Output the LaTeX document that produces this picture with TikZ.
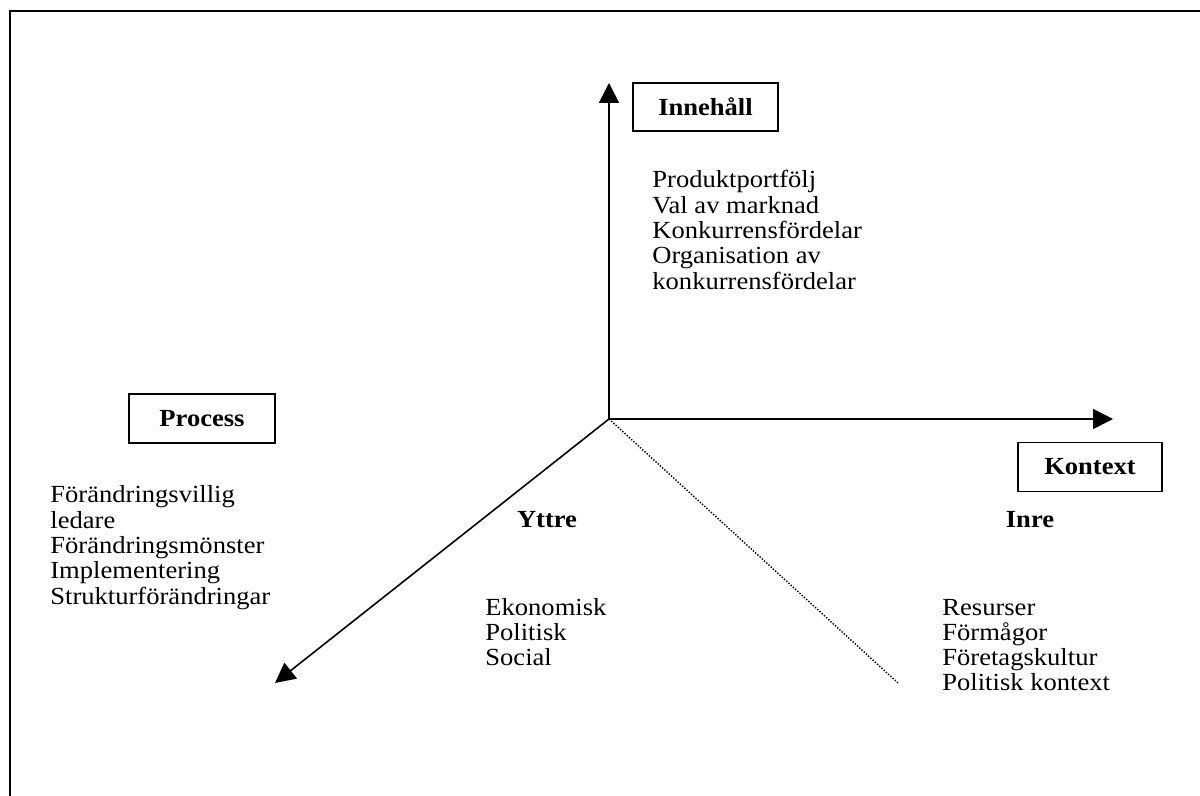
\documentclass[tikz,border=0pt]{standalone}
\usepackage{fontspec}
\setmainfont{Liberation Serif}[FakeStretch=1.08]
\usetikzlibrary{arrows.meta}
\begin{document}
\begin{tikzpicture}[x=0.5pt,y=-0.5pt,
  frame/.style={line width=0.9pt},
  axis/.style={line width=0.8pt,-{Triangle[length=10pt,width=10pt]}},
  dotline/.style={line width=0.7pt,dash pattern=on 0.7pt off 0.8pt},
  label/.style={draw,line width=0.7pt,inner sep=0pt,font=\fontsize{12.3}{14}\selectfont\bfseries},
  heading/.style={inner sep=0pt,anchor=base,font=\fontsize{12.3}{14}\selectfont\bfseries},
  item/.style={inner sep=0pt,anchor=base west,font=\fontsize{12.3}{14}\selectfont}]
\useasboundingbox (0,0) rectangle (1200,796);

% open frame along the top and left
\draw[frame] (10,796) -- (10,11) -- (1200,11);

% axes from a common origin
\coordinate (O) at (609,419);
\coordinate (up) at (609,83);
\coordinate (right) at (1113,419);
\coordinate (downleft) at (275,683);
\coordinate (dotend) at (898,683);
\draw[axis] (O) -- (up);
\draw[axis] (O) -- (right);
\draw[axis] (O) -- (downleft);
\draw[dotline] (O) -- (dotend);

% boxed axis labels
\node[label,minimum width=72.5pt,minimum height=24pt] (innehall) at (705.5,107) {Innehåll};
\node[label,minimum width=73pt,minimum height=24.5pt] (process) at (202,418.5) {Process};
\node[label,minimum width=72pt,minimum height=24.5pt] (kontext) at (1090,467) {Kontext};

% Innehåll items
\foreach \t [count=\i] in {Produktportfölj,Val av marknad,Konkurrensfördelar,Organisation av,konkurrensfördelar}
  \node[item] (inn-\i) at (652,{188+25.3*(\i-1)}) {\t};

% Process items
\foreach \t [count=\i] in {Förändringsvillig,ledare,Förändringsmönster,Implementering,Strukturförändringar}
  \node[item] (pro-\i) at (50,{503+25.3*(\i-1)}) {\t};

% Yttre
\node[heading] (yttre) at (547,528) {Yttre};
\foreach \t [count=\i] in {Ekonomisk,Politisk,Social}
  \node[item] (ytt-\i) at (485,{615+25.3*(\i-1)}) {\t};

% Inre
\node[heading] (inre) at (1030,528) {Inre};
\foreach \t [count=\i] in {Resurser,Förmågor,Företagskultur,Politisk kontext}
  \node[item] (inr-\i) at (942,{615+25.3*(\i-1)}) {\t};
\end{tikzpicture}
\end{document}
